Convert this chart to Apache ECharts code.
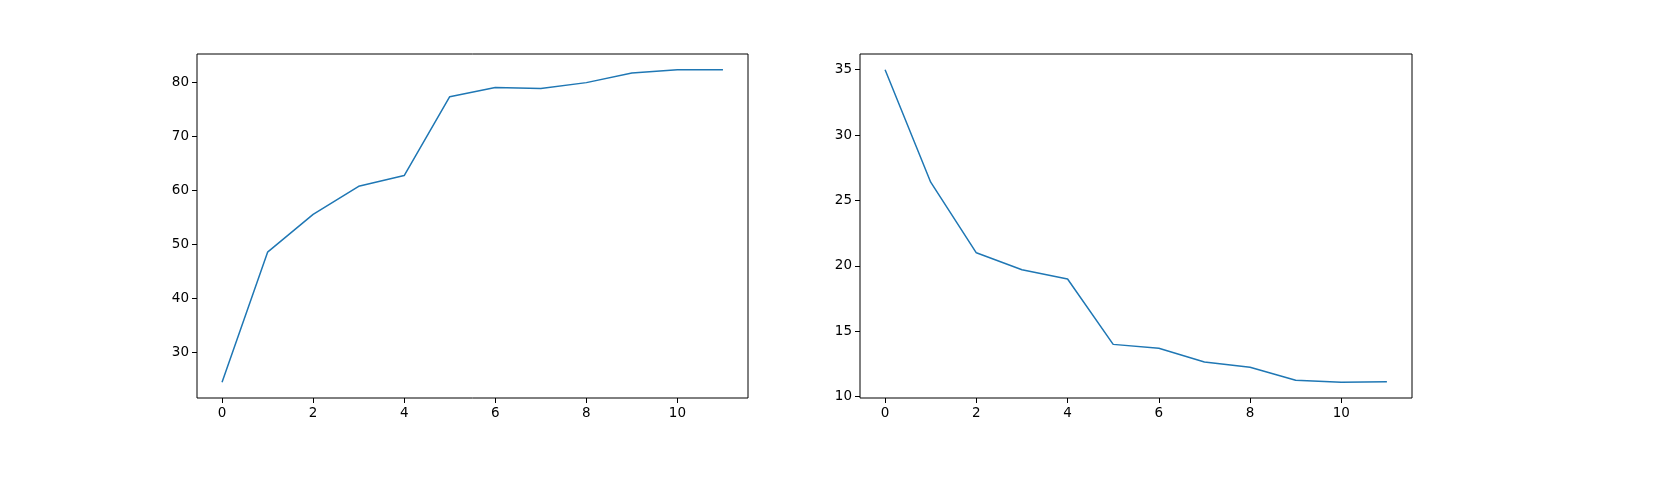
<!DOCTYPE html>
<html><head><meta charset="utf-8">
<script src="https://cdn.jsdelivr.net/npm/echarts@6/dist/echarts.min.js"></script>
<style>html,body{margin:0;padding:0;background:#fff}#c{width:1680px;height:480px}</style>
</head><body><div id="c"></div>
<script>
const xs = [0,1,2,3,4,5,6,7,8,9,10,11];
const leftValues = [24.5,48.6,55.6,60.8,62.8,77.4,79.1,78.9,80.0,81.8,82.4,82.4];
const rightValues = [35.0,26.4,21.0,19.7,19.0,14.0,13.7,12.65,12.25,11.25,11.1,11.15];
const xTicks = [0,2,4,6,8,10];
const leftYTicks = [30,40,50,60,70,80];
const rightYTicks = [10,15,20,25,30,35];

const font = {fontFamily:'DejaVu Sans', fontSize:13.5, color:'#000'};
function xAxis(i){return {type:'value',gridIndex:i,min:-0.55,max:11.55,splitLine:{show:false},
  axisLine:{show:false,onZero:false},axisTick:{show:true,length:5,customValues:xTicks,lineStyle:{color:'#000'}},
  axisLabel:Object.assign({customValues:xTicks,margin:8},font)};}
function yAxis(i,min,max,t){return {type:'value',gridIndex:i,min:min,max:max,splitLine:{show:false},
  axisLine:{show:false,onZero:false},axisTick:{show:true,length:5,customValues:t,lineStyle:{color:'#000'}},
  axisLabel:Object.assign({customValues:t,margin:8},font)};}
const chart = echarts.init(document.getElementById('c'));
chart.setOption({
  animation:false,
  grid:[{left:197,right:932,top:54,bottom:82,show:true,borderColor:'#000',borderWidth:1},
        {left:860,right:268,top:54,bottom:82,show:true,borderColor:'#000',borderWidth:1}],
  xAxis:[xAxis(0),xAxis(1)],
  yAxis:[yAxis(0,21.6,85.3,leftYTicks),yAxis(1,9.9,36.2,rightYTicks)],
  series:[
    {type:'line',xAxisIndex:0,yAxisIndex:0,data:xs.map((x,i)=>[x,leftValues[i]]),showSymbol:false,lineStyle:{color:'#1f77b4',width:1.5}},
    {type:'line',xAxisIndex:1,yAxisIndex:1,data:xs.map((x,i)=>[x,rightValues[i]]),showSymbol:false,lineStyle:{color:'#1f77b4',width:1.5}}
  ]
});
</script></body></html>
